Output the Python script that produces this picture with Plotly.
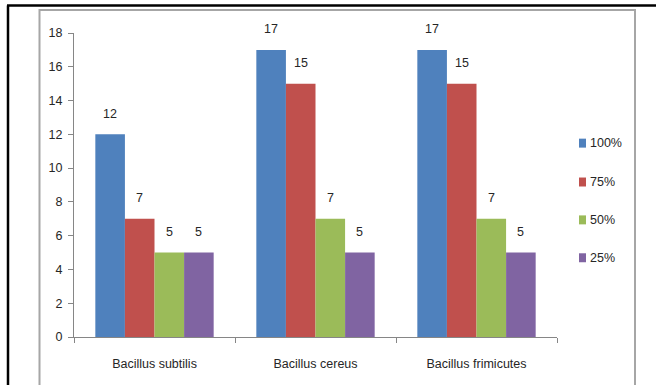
import plotly.graph_objects as go

# Growth inhibition by concentration for three Bacillus species
species = ["Bacillus subtilis", "Bacillus cereus", "Bacillus frimicutes"]
conc_100 = [12, 17, 17]
conc_75 = [7, 15, 15]
conc_50 = [5, 7, 7]
conc_25 = [5, 5, 5]
series_names = ["100%", "75%", "50%", "25%"]
series_values = [conc_100, conc_75, conc_50, conc_25]
series_colors = ["#4F81BD", "#C0504D", "#9BBB59", "#8064A2"]
y_ticks = list(range(0, 19, 2))

W, H = 656, 385
L, R, T, B = 74, 557, 32.5, 337.5
BARGAP = 0.265
FONT = "Liberation Sans, Arial, sans-serif"
TXT = "#262626"


def px_x(x):
    return (x - L) / (R - L)


def px_y(y):
    return (B - y) / (B - T)


n_series = len(series_names)
bar_px = (R - L) / len(species) * (1 - BARGAP) / n_series

fig = go.Figure()
annotations = []
for i, (name, vals, col) in enumerate(zip(series_names, series_values, series_colors)):
    fig.add_trace(go.Bar(
        name=name, x=species, y=vals,
        marker=dict(color=col, line=dict(width=0)),
        showlegend=False,
    ))
    # value labels sitting above each bar
    for sp, v in zip(species, vals):
        annotations.append(dict(
            x=sp, y=v, xref="x", yref="y", text=str(v), showarrow=False,
            xshift=(i - (n_series - 1) / 2) * bar_px, yshift=20.5,
            font=dict(family=FONT, size=12.5, color=TXT),
        ))

shapes = [
    # outer chart frame
    dict(type="rect", xref="paper", yref="paper",
         x0=px_x(39.5), x1=px_x(635), y0=px_y(400), y1=px_y(9.5),
         line=dict(color="#A6A6A6", width=2), layer="below"),
    # page border lines
    dict(type="line", xref="paper", yref="paper",
         x0=px_x(8), x1=px_x(8), y0=px_y(5), y1=px_y(400),
         line=dict(color="black", width=2.5)),
    dict(type="line", xref="paper", yref="paper",
         x0=px_x(7), x1=px_x(700), y0=px_y(5), y1=px_y(5),
         line=dict(color="black", width=2.5)),
]

# legend: small colour keys with labels, stacked on the right
legend_y = [143, 182, 220, 258]
for name, col, ly in zip(series_names, series_colors, legend_y):
    shapes.append(dict(type="rect", xref="paper", yref="paper",
                       x0=px_x(579), x1=px_x(586), y0=px_y(ly + 4.5), y1=px_y(ly - 4.5),
                       fillcolor=col, line=dict(width=0)))
    annotations.append(dict(x=px_x(587.5), y=px_y(ly), xref="paper", yref="paper",
                            text=name, showarrow=False, xanchor="left", yanchor="middle",
                            font=dict(family=FONT, size=12.5, color=TXT)))

fig.update_layout(
    width=W, height=H,
    margin=dict(l=L, r=W - R, t=T, b=H - B, autoexpand=False),
    paper_bgcolor="white", plot_bgcolor="white",
    barmode="group", bargap=BARGAP, bargroupgap=0,
    font=dict(family=FONT, size=12.5, color=TXT),
    showlegend=False,
    shapes=shapes, annotations=annotations,
    xaxis=dict(showline=True, linecolor="#868686", linewidth=1,
               ticks="outside", ticklen=5, tickcolor="#868686",
               tickson="boundaries", showgrid=False, ticklabelstandoff=15,
               tickfont=dict(family=FONT, size=12.5, color=TXT)),
    yaxis=dict(range=[0, 18], tickvals=y_ticks, showline=True,
               linecolor="#868686", linewidth=1, ticks="outside",
               ticklen=5, tickcolor="#868686", showgrid=False,
               zeroline=False, ticklabelstandoff=3,
               tickfont=dict(family=FONT, size=12.5, color=TXT)),
)

fig.write_html("out.html")
